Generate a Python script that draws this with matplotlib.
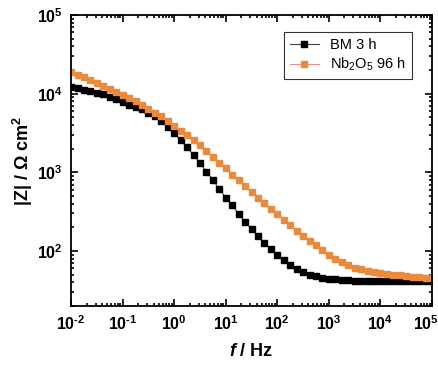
"""
Bode plot |Z| vs f, BM 3 h vs Nb2O5 96 h
"""
import numpy as np
import matplotlib
matplotlib.use('Agg')
import matplotlib.pyplot as plt
import matplotlib.transforms as mtrans
from matplotlib.ticker import LogLocator, FuncFormatter, NullFormatter

plt.rcParams['font.family'] = ['Liberation Sans', 'DejaVu Sans']
plt.rcParams['mathtext.fontset'] = 'custom'
plt.rcParams['mathtext.rm'] = 'Liberation Sans:bold'
plt.rcParams['mathtext.bf'] = 'Liberation Sans:bold'
plt.rcParams['mathtext.it'] = 'Liberation Sans:italic:bold'
plt.rcParams['mathtext.sf'] = 'Liberation Sans'

# measurement grid, 8 points per decade, 10 mHz .. 100 kHz
freq = np.logspace(-2, 5, 57)

# log10 |Z|
logz_bm = [4.08, 4.07, 4.05, 4.03, 4.01, 3.99, 3.96, 3.93, 3.89, 3.86,
           3.83, 3.80, 3.76, 3.71, 3.65, 3.58, 3.50, 3.41, 3.32, 3.22,
           3.12, 3.01, 2.90, 2.79, 2.68, 2.58, 2.47, 2.37, 2.28, 2.19,
           2.10, 2.02, 1.95, 1.88, 1.82, 1.77, 1.73, 1.70, 1.68, 1.66,
           1.65, 1.64, 1.63, 1.63, 1.62, 1.62, 1.62, 1.62, 1.62, 1.62,
           1.62, 1.62, 1.62, 1.62, 1.62, 1.62, 1.62]
logz_nb = [4.27, 4.24, 4.21, 4.18, 4.14, 4.10, 4.06, 4.02, 3.98, 3.94,
           3.91, 3.86, 3.81, 3.76, 3.71, 3.65, 3.59, 3.53, 3.47, 3.41,
           3.35, 3.27, 3.20, 3.12, 3.05, 2.97, 2.90, 2.82, 2.75, 2.68,
           2.61, 2.54, 2.47, 2.40, 2.33, 2.26, 2.19, 2.13, 2.07, 2.01,
           1.95, 1.90, 1.86, 1.82, 1.79, 1.77, 1.75, 1.73, 1.72, 1.71,
           1.70, 1.69, 1.68, 1.67, 1.67, 1.66, 1.66]

z_bm = 10 ** np.array(logz_bm)
z_nb = 10 ** np.array(logz_nb)

fig = plt.figure(figsize=(4.39, 3.66), dpi=100)
ax = fig.add_axes([0.162, 0.164, 0.822, 0.795])

ax.plot(freq, z_bm, color='#444444', lw=0.8, marker='s', ms=4.0,
        mfc='black', mec='black', label='BM 3 h')
ax.plot(freq, z_nb, color='#e8908a', lw=0.8, marker='s', ms=4.0,
        mfc='#ea8a3c', mec='#ea8a3c', label=r'Nb$_\mathsf{2}$O$_\mathsf{5}$ 96 h')

ax.set_xscale('log')
ax.set_yscale('log')
ax.set_xlim(1e-2, 1e5)
ax.set_ylim(20, 1e5)


def pow_label(v, pos):
    e = int(round(np.log10(v)))
    if e < 0:
        return r'$\mathbf{10^{\text{-}%d}}$' % -e
    return r'$\mathbf{10^{%d}}$' % e


fmt = FuncFormatter(pow_label)
for axis in (ax.xaxis, ax.yaxis):
    axis.set_major_locator(LogLocator(base=10, numticks=20))
    axis.set_minor_locator(LogLocator(base=10, subs=np.arange(2, 10), numticks=20))
    axis.set_major_formatter(fmt)
    axis.set_minor_formatter(NullFormatter())

ax.tick_params(which='both', direction='in', top=True, right=True, width=1.2)
ax.tick_params(which='major', length=5, labelsize=11.5, pad=6)
ax.tick_params(which='minor', length=2.5)
for s in ax.spines.values():
    s.set_linewidth(1.3)

ax.set_xlabel(r'$f$ / Hz', fontsize=13, fontweight='bold', labelpad=7)
ax.set_ylabel(r'|Z| / $\Omega$ cm$^\mathbf{2}$', fontsize=13, fontweight='bold', labelpad=1)

leg = ax.legend(loc='upper right', bbox_to_anchor=(0.966, 0.966), fontsize=10.5,
                fancybox=False, edgecolor='#333333', framealpha=1,
                handlelength=2.0, borderpad=0.4, labelspacing=0.25)
leg.get_frame().set_linewidth(0.8)

# nudge the 10^5 label on x a little left so it stays on the canvas
fig.canvas.draw()
for tick in ax.xaxis.get_major_ticks():
    if np.isclose(tick.get_loc(), 1e5):
        lab = tick.label1
        lab.set_transform(lab.get_transform() +
                          mtrans.ScaledTranslation(-6 / 100, 0, fig.dpi_scale_trans))

fig.savefig('out.png', dpi=100)
